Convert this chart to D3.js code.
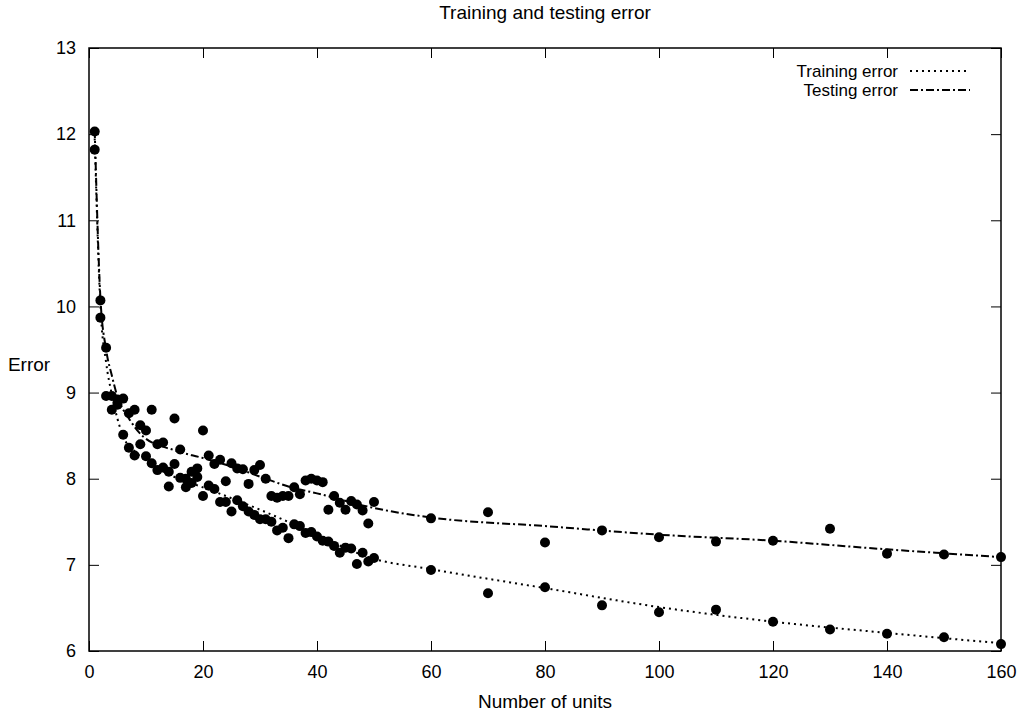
<!DOCTYPE html>
<html>
<head>
<meta charset="utf-8">
<script src="https://cdn.jsdelivr.net/npm/d3@7"></script>
<style>
  body { margin: 0; background: #fff; }
  text { font-family: "Liberation Sans", Arial, sans-serif; fill: #000; }
</style>
</head>
<body>
<div id="chart"></div>
<script>
const width = 1021;
const height = 716;
const margins = {top: 48, right: 20, bottom: 65, left: 89};

// measured points, x = number of units
const units = [1,2,3,4,5,6,7,8,9,10,11,12,13,14,15,16,17,18,19,20,
  21,22,23,24,25,26,27,28,29,30,31,32,33,34,35,36,37,38,39,40,
  41,42,43,44,45,46,47,48,49,50,60,70,80,90,100,110,120,130,140,150,160];
const testErr = [12.03,10.07,9.52,8.96,8.92,8.93,8.76,8.80,8.62,8.56,8.80,8.40,8.42,8.08,8.70,8.34,7.90,8.08,8.12,8.56,
  8.27,8.17,8.22,7.97,8.18,8.12,8.11,7.94,8.10,8.16,8.00,7.80,7.78,7.80,7.80,7.90,7.82,7.98,8.00,7.98,
  7.96,7.64,7.80,7.72,7.64,7.74,7.70,7.63,7.48,7.73,7.54,7.61,7.26,7.40,7.32,7.27,7.28,7.42,7.13,7.12,7.09];
const trainErr = [11.82,9.87,8.96,8.80,8.86,8.51,8.36,8.27,8.40,8.26,8.18,8.10,8.13,7.91,8.17,8.01,8.00,7.95,8.02,7.80,
  7.92,7.88,7.73,7.73,7.62,7.75,7.68,7.62,7.58,7.53,7.53,7.50,7.40,7.43,7.31,7.47,7.45,7.37,7.38,7.33,
  7.28,7.27,7.22,7.14,7.20,7.19,7.01,7.14,7.04,7.08,6.94,6.67,6.74,6.53,6.45,6.48,6.34,6.25,6.20,6.16,6.08];

// fitted curves
const trainFitX = [1,2,3,4,6,8,10,15,20,30,37,50,60,80,100,120,140,160];
const trainFit = [11.95,10.0,9.35,8.98,8.49,8.32,8.21,8.02,7.9,7.64,7.44,7.07,6.95,6.73,6.51,6.34,6.21,6.09];
const testFitX = [1,2,3,4,5,7,9.5,15,20,26,31,36,40,50,60,80,100,120,140,160];
const testFit = [12.05,10.1,9.5,9.2,8.95,8.7,8.49,8.33,8.24,8.12,8.0,7.89,7.83,7.66,7.55,7.45,7.35,7.28,7.18,7.09];

const xTicks = [0,20,40,60,80,100,120,140,160];
const yTicks = [6,7,8,9,10,11,12,13];

const svg = d3.select("#chart")
  .append("svg")
  .attr("width", width)
  .attr("height", height);

const x = d3.scaleLinear()
  .domain([0, 160])
  .range([margins.left, width - margins.right]);

const y = d3.scaleLinear()
  .domain([6, 13])
  .range([height - margins.bottom, margins.top]);

const plotW = width - margins.left - margins.right;
const plotH = height - margins.top - margins.bottom;
const tick = 10;

// axes, ticks inside and mirrored
function styleAxis(g) {
  g.select(".domain").remove();
  g.selectAll("line").attr("stroke", "#000").attr("stroke-width", 1);
  g.selectAll("text").attr("font-size", "18px").attr("fill", "#000");
}

svg.append("g")
  .attr("transform", "translate(0," + y(6) + ")")
  .call(d3.axisBottom(x).tickValues(xTicks).tickSizeInner(-tick).tickSizeOuter(0).tickPadding(14))
  .call(styleAxis);

svg.append("g")
  .attr("transform", "translate(0," + y(13) + ")")
  .call(d3.axisTop(x).tickValues(xTicks).tickSizeInner(-tick).tickSizeOuter(0).tickFormat(""))
  .call(styleAxis);

svg.append("g")
  .attr("transform", "translate(" + x(0) + ",0)")
  .call(d3.axisLeft(y).tickValues(yTicks).tickSizeInner(-tick).tickSizeOuter(0).tickPadding(13).tickFormat(d3.format("d")))
  .call(styleAxis);

svg.append("g")
  .attr("transform", "translate(" + x(160) + ",0)")
  .call(d3.axisRight(y).tickValues(yTicks).tickSizeInner(-tick).tickSizeOuter(0).tickFormat(""))
  .call(styleAxis);

svg.append("rect")
  .attr("x", margins.left)
  .attr("y", margins.top)
  .attr("width", plotW)
  .attr("height", plotH)
  .attr("fill", "none")
  .attr("stroke", "#000")
  .attr("stroke-width", 1.5);

// fitted curves
const trainLine = d3.line()
  .x((d, i) => x(trainFitX[i]))
  .y(d => y(d))
  .curve(d3.curveMonotoneX);

const testLine = d3.line()
  .x((d, i) => x(testFitX[i]))
  .y(d => y(d))
  .curve(d3.curveMonotoneX);

svg.append("path")
  .attr("d", trainLine(trainFit))
  .attr("fill", "none")
  .attr("stroke", "#000")
  .attr("stroke-width", 2)
  .attr("stroke-dasharray", "2,4");

svg.append("path")
  .attr("d", testLine(testFit))
  .attr("fill", "none")
  .attr("stroke", "#000")
  .attr("stroke-width", 2)
  .attr("stroke-dasharray", "8,3,2,3");

// points
svg.append("g")
  .selectAll("circle.train")
  .data(trainErr)
  .join("circle")
    .attr("class", "train")
    .attr("cx", (d, i) => x(units[i]))
    .attr("cy", d => y(d))
    .attr("r", 5);

svg.append("g")
  .selectAll("circle.test")
  .data(testErr)
  .join("circle")
    .attr("class", "test")
    .attr("cx", (d, i) => x(units[i]))
    .attr("cy", d => y(d))
    .attr("r", 5);

// legend
const legend = [
  {label: "Training error", dash: "2,4"},
  {label: "Testing error", dash: "8,3,2,3"}
];

const lg = svg.append("g");
legend.forEach(function (item, i) {
  const ly = 71 + i * 19;
  lg.append("text")
    .attr("x", 898)
    .attr("y", ly + 6)
    .attr("text-anchor", "end")
    .attr("font-size", "17px")
    .text(item.label);
  lg.append("line")
    .attr("x1", 910)
    .attr("x2", 970)
    .attr("y1", ly)
    .attr("y2", ly)
    .attr("stroke", "#000")
    .attr("stroke-width", 2)
    .attr("stroke-dasharray", item.dash);
});

// titles
svg.append("text")
  .attr("x", (margins.left + width - margins.right) / 2)
  .attr("y", 19)
  .attr("text-anchor", "middle")
  .attr("font-size", "19px")
  .text("Training and testing error");

svg.append("text")
  .attr("x", (margins.left + width - margins.right) / 2)
  .attr("y", 708)
  .attr("text-anchor", "middle")
  .attr("font-size", "19px")
  .text("Number of units");

svg.append("text")
  .attr("x", 29)
  .attr("y", 371)
  .attr("text-anchor", "middle")
  .attr("font-size", "19px")
  .text("Error");
</script>
</body>
</html>
